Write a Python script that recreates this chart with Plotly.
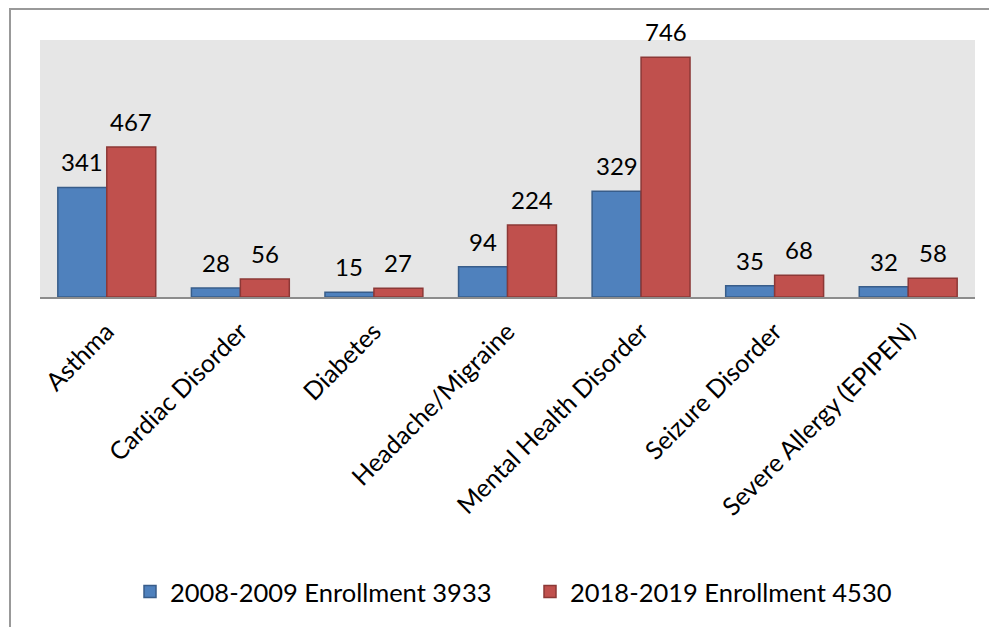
import plotly.graph_objects as go

categories = ["Asthma", "Cardiac Disorder", "Diabetes", "Headache/Migraine",
              "Mental Health Disorder", "Seizure Disorder", "Severe Allergy (EPIPEN)"]
series1_name = "2008-2009 Enrollment 3933"
series2_name = "2018-2019 Enrollment 4530"
series1 = [341, 28, 15, 94, 329, 35, 32]
series2 = [467, 56, 27, 224, 746, 68, 58]

FONT = "Lato, Carlito, Calibri, sans-serif"
OFF = 8  # page body offset
W, H = 997 - OFF, 627 - OFF
ML, MT = 40 - OFF, 40 - OFF
MR = (W + OFF) - 975
MB = (H + OFF) - 297
PW, PH = W - ML - MR, H - MT - MB

def px_to_paper_x(px):
    return (px - OFF - ML) / PW

def px_to_paper_y(py):
    return (H - MB - (py - OFF)) / PH

fig = go.Figure()
fig.add_trace(go.Bar(name=series1_name, x=categories, y=series1,
                     marker=dict(color="#4f81bd", line=dict(color="#385d8a", width=1.5))))
fig.add_trace(go.Bar(name=series2_name, x=categories, y=series2,
                     marker=dict(color="#c0504d", line=dict(color="#8c3836", width=1.5))))

bar_px = PW / len(categories) * (1 - 0.267) / 2
annotations = []
for vals, shift in ((series1, -bar_px / 2), (series2, bar_px / 2)):
    for c, v in zip(categories, vals):
        annotations.append(dict(x=c, y=v, xref="x", yref="y", text=str(v),
                                showarrow=False, xshift=shift, yshift=9,
                                yanchor="bottom", font=dict(size=24, color="#000", family=FONT)))

shapes = [
    dict(type="line", xref="paper", yref="paper",
         x0=px_to_paper_x(10), x1=px_to_paper_x(W + OFF),
         y0=px_to_paper_y(OFF + 1), y1=px_to_paper_y(OFF + 1),
         line=dict(color="#999999", width=2)),
    dict(type="line", xref="paper", yref="paper",
         x0=px_to_paper_x(10), x1=px_to_paper_x(10),
         y0=px_to_paper_y(OFF), y1=px_to_paper_y(H + OFF),
         line=dict(color="#999999", width=2)),
]

fig.update_layout(
    width=W, height=H,
    margin=dict(l=ML, r=MR, t=MT, b=MB, autoexpand=False),
    paper_bgcolor="white", plot_bgcolor="#e6e6e6",
    barmode="group", bargap=0.267, bargroupgap=0,
    font=dict(family=FONT, color="#000"),
    showlegend=True,
    legend=dict(orientation="h", x=px_to_paper_x(130), xanchor="left",
                y=px_to_paper_y(592), yanchor="middle",
                font=dict(size=25.5, family=FONT), itemwidth=30,
                entrywidth=355, entrywidthmode="pixels",
                bgcolor="rgba(0,0,0,0)", traceorder="normal"),
    annotations=annotations,
    shapes=shapes,
    xaxis=dict(tickangle=-45, tickfont=dict(size=25, family=FONT, color="#000"),
               showline=True, linecolor="#8c8c8c", linewidth=2,
               ticks="", ticklabelstandoff=8, showgrid=False, fixedrange=True),
    yaxis=dict(range=[0, 800], showticklabels=False, showgrid=False,
               zeroline=False, showline=False, ticks="", fixedrange=True),
)

fig.write_html("out.html", config={"displayModeBar": False})
